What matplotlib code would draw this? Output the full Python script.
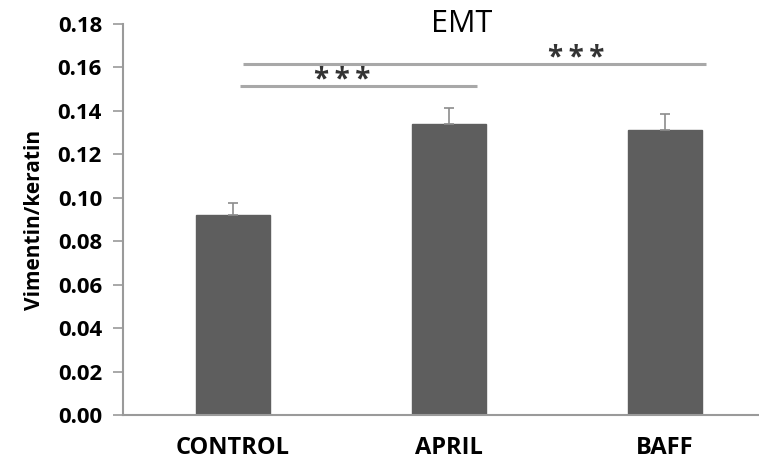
import numpy as np
import matplotlib
matplotlib.use("Agg")
import matplotlib.pyplot as plt

plt.rcParams["font.family"] = ["Open Sans", "DejaVu Sans"]

categories = ["CONTROL", "APRIL", "BAFF"]
values = [0.092, 0.134, 0.131]
errors = [0.0058, 0.0075, 0.0075]
yticks = [0.00, 0.02, 0.04, 0.06, 0.08, 0.10, 0.12, 0.14, 0.16, 0.18]

# significance lines: start x, end x, y level, star x, star baseline y
sig = [
    (0.032, 1.13, 0.1513, 0.508, 0.1506),
    (0.046, 2.19, 0.1614, 1.59, 0.1608),
]

fig = plt.figure(figsize=(7.59, 4.66), dpi=100)
ax = fig.add_axes([0.162, 0.1094, 0.838, 0.8391])

x = np.arange(len(categories))
bar_c = "#5e5e5e"
ax.bar(x, values, width=0.34, color=bar_c, edgecolor=bar_c, zorder=2)
ax.errorbar(x, values, yerr=[np.zeros(len(errors)), errors], fmt="none",
            ecolor="#8c8c8c", elinewidth=1.2, capsize=3.5, capthick=1.2, zorder=3)

for x0, x1, y, sx, sy in sig:
    ax.plot([x0, x1], [y, y], color="#a8a8a8", lw=2.2,
            solid_capstyle="butt", clip_on=False)
    ax.text(sx, sy, "*\u2009*\u2009*", ha="center", va="baseline", fontsize=20,
            fontweight="bold", color="#333333")

ax.set_xlim(-0.509, 2.435)
ax.set_ylim(0, 0.18)
ax.set_yticks(yticks)
ax.set_yticklabels([f"{t:.2f}" for t in yticks], fontsize=16, fontweight="bold")
ax.set_xticks(x)
ax.set_xticklabels(categories, fontsize=17, fontweight="bold")
ax.tick_params(axis="x", length=0, pad=15)
ax.tick_params(axis="y", direction="out", length=7, width=1.2, color="#9a9a9a", pad=8)
ax.set_ylabel("Vimentin/keratin", fontsize=15, fontweight="bold", labelpad=9)

for s in ["top", "right"]:
    ax.spines[s].set_visible(False)
for s in ["left", "bottom"]:
    ax.spines[s].set_color("#9a9a9a")
    ax.spines[s].set_linewidth(1.5)

ax.text(1.06, 0.18, "EMT", ha="center", va="center", fontsize=22)

fig.savefig("out.png", dpi=100)
